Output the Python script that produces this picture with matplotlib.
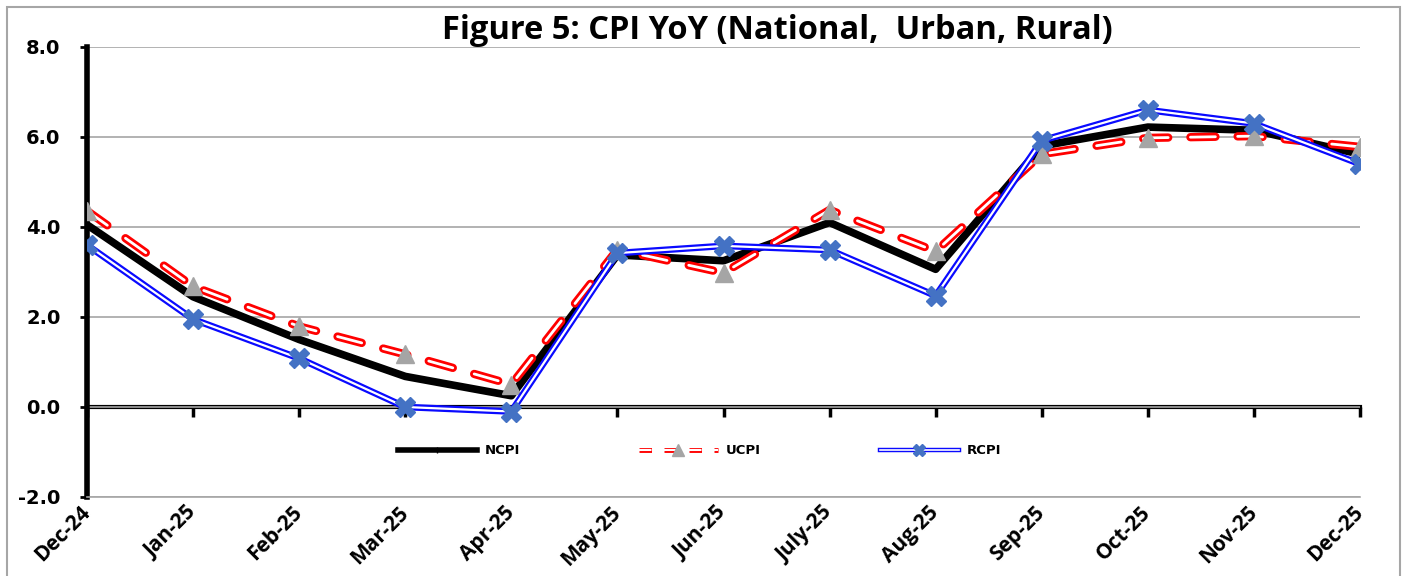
import matplotlib.pyplot as plt
import matplotlib.patheffects as pe
from matplotlib.lines import Line2D
import numpy as np

# Data
months = ['Dec-24', 'Jan-25', 'Feb-25', 'Mar-25', 'Apr-25', 'May-25', 'Jun-25',
          'July-25', 'Aug-25', 'Sep-25', 'Oct-25', 'Nov-25', 'Dec-25']
ncpi = [4.05, 2.45, 1.5, 0.68, 0.25, 3.38, 3.25, 4.1, 3.06, 5.8, 6.22, 6.15, 5.62]
ucpi = [4.36, 2.68, 1.79, 1.17, 0.5, 3.5, 2.98, 4.38, 3.46, 5.62, 5.98, 6.02, 5.78]
rcpi = [3.6, 1.95, 1.08, 0.0, -0.1, 3.42, 3.58, 3.49, 2.47, 5.92, 6.6, 6.3, 5.4]

x = np.arange(len(months))

fig = plt.figure(figsize=(14.08, 5.76), dpi=100)
ax = fig.add_axes([87 / 1408, 1 - 497 / 576, (1360 - 87) / 1408, 450 / 576])

# figure border
fig.patches.append(plt.Rectangle((7 / 1408, -0.01), 1393 / 1408, 1 - 7 / 576 + 0.01,
                                 transform=fig.transFigure, fill=False,
                                 edgecolor='#a6a6a6', linewidth=1.5))

red_fx = [pe.Stroke(linewidth=6, foreground='#ff0000'), pe.Normal()]
blue_fx = [pe.Stroke(linewidth=4.8, foreground='#0a0aff'), pe.Normal()]
dash = (0, (9, 8))

# series: lines first, markers on top (markers without path effects)
ax.plot(x, ncpi, color='black', linewidth=5.5, zorder=3)
ax.plot(x, ncpi, linestyle='none', marker='+', markersize=5, markeredgewidth=1.5,
        color='black', zorder=3)
ax.plot(x, ucpi, color='white', linewidth=2, linestyle=dash, dash_capstyle='round',
        path_effects=red_fx, zorder=4)
ax.plot(x, ucpi, linestyle='none', marker='^', markersize=13, color='#a5a5a5', zorder=4)
ax.plot(x, rcpi, color='white', linewidth=1.6, path_effects=blue_fx, zorder=5)
ax.plot(x, rcpi, linestyle='none', marker='X', markersize=14, color='#4472c4', zorder=5)

ax.set_xlim(0, 12)
ax.set_ylim(-2, 8)
yt = [-2, 0, 2, 4, 6, 8]
ax.set_yticks(yt)
ax.set_yticklabels([f'{v:.1f}' for v in yt], fontsize=14, fontweight='bold',
                   family='DejaVu Sans')
ax.yaxis.grid(True, color='#a6a6a6', linewidth=1.2)
ax.set_axisbelow(True)

for s in ['top', 'right']:
    ax.spines[s].set_visible(False)
ax.spines['left'].set_linewidth(4)
ax.spines['left'].set_color('black')
ax.spines['bottom'].set_color('#a6a6a6')
ax.spines['bottom'].set_linewidth(1.2)
ax.tick_params(axis='y', length=5, width=2, pad=14)

ax.set_xticks(x)
ax.set_xticklabels(months, rotation=45, ha='right', va='center',
                   rotation_mode='anchor', fontsize=15, fontweight='bold',
                   family='Open Sans')
ax.tick_params(axis='x', length=0, pad=9)

# x axis line at zero with outward ticks
sec = ax.secondary_xaxis(0.2)
sec.set_xticks(x)
sec.tick_params(axis='x', length=7, width=2.5, direction='out', labelbottom=False)
sec.spines['bottom'].set_linewidth(3)
sec.spines['bottom'].set_color('black')

ax.set_title('Figure 5: CPI YoY (National,  Urban, Rural)', fontsize=23.5,
             fontweight='bold', family='Open Sans', pad=-6, x=0.542)

# legend handles: line + small marker overlaid
h_n = (Line2D([], [], color='black', linewidth=4),
       Line2D([], [], linestyle='none', marker='+', markersize=5, color='black'))
h_u = (Line2D([], [], color='white', linewidth=1.5, linestyle=(0, (6, 6)),
              path_effects=[pe.Stroke(linewidth=3.5, foreground='red'), pe.Normal()]),
       Line2D([], [], linestyle='none', marker='^', markersize=9, color='#a5a5a5'))
h_r = (Line2D([], [], color='white', linewidth=1.2,
              path_effects=[pe.Stroke(linewidth=3.2, foreground='#0a0aff'), pe.Normal()]),
       Line2D([], [], linestyle='none', marker='X', markersize=8, color='#4472c4'))
ax.legend([h_n, h_u, h_r], ['NCPI', 'UCPI', 'RCPI'], loc='center',
          bbox_to_anchor=(0.481, 0.103), ncol=3, frameon=False,
          prop={'size': 9.5, 'weight': 'bold', 'family': 'DejaVu Sans'},
          handlelength=6, columnspacing=9, handletextpad=0.6)

plt.savefig('out.png', dpi=100)
